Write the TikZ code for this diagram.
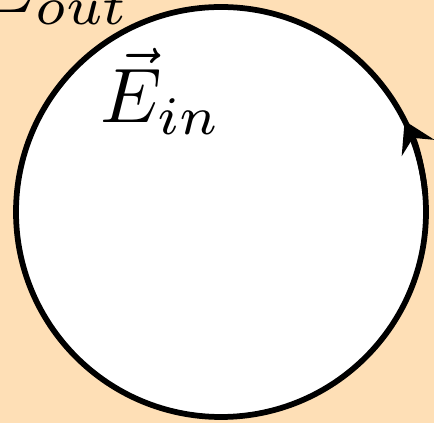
\documentclass[tikz,border=0pt]{standalone}
\usetikzlibrary{arrows.meta}
\definecolor{peach}{RGB}{254,223,182}
\begin{document}
\begin{tikzpicture}[line width=0.115cm]
  \fill[peach] (0,0) rectangle (8.68,8.46);
  \useasboundingbox (0,0) rectangle (8.68,8.46);
  \clip (0,0) rectangle (8.68,8.46);
  \coordinate (c) at (4.42,4.22);
  \draw[fill=white] (c) circle (4.1);
  \draw[-{Stealth[length=0.6cm,width=0.72cm,inset=0.22cm]}] (c) ++(5:4.1) arc (5:26.4:4.1);
  \node[anchor=base west,inner sep=0pt,scale=4.4] (Eout) at (-0.68,8.20) {$\vec{E}_{out}$};
  \node[anchor=base west,inner sep=0pt,scale=4.4] (Ein) at (1.76,6.00) {$\vec{E}_{in}$};
\end{tikzpicture}
\end{document}
